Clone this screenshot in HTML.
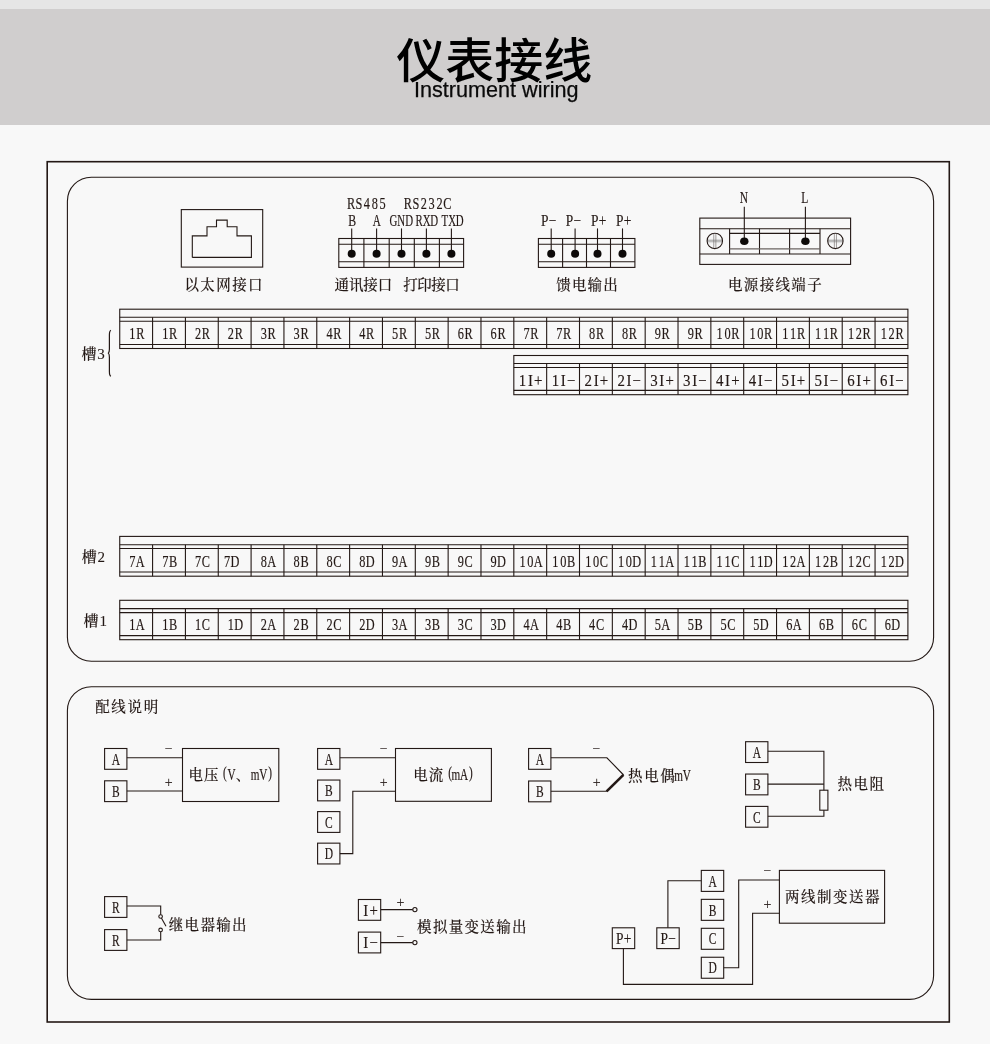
<!DOCTYPE html>
<html lang="zh-CN">
<head>
<meta charset="utf-8">
<title>仪表接线 Instrument wiring</title>
<style>
html,body{margin:0;padding:0;}
body{width:990px;height:1044px;background:#f8f8f8;position:relative;overflow:hidden;font-family:"Liberation Sans","Noto Sans CJK SC",sans-serif;}
.top{position:absolute;left:0;top:0;width:990px;height:9px;background:#e6e6e6;}
.band{position:absolute;left:0;top:9px;width:990px;height:116px;background:#d0cece;}
svg{position:absolute;left:0;top:0;will-change:transform;}
.h{font-family:"Liberation Sans","Noto Sans CJK SC",sans-serif;font-weight:500;fill:#000;}
.s{font-family:"Liberation Sans","Noto Sans CJK SC",sans-serif;font-weight:400;fill:#0a0a0a;stroke:#0a0a0a;stroke-width:0.25;}
.t{font-family:"Liberation Serif","Noto Serif CJK SC",serif;font-weight:500;fill:#231815;stroke:#231815;stroke-width:0.1;}
.l{stroke-width:0.16;}
</style>
</head>
<body>
<div class="top"></div>
<div class="band"></div>
<svg width="990" height="1044" viewBox="0 0 990 1044">
<defs>
<linearGradient id="scr" x1="0" y1="0" x2="0" y2="1">
<stop offset="0" stop-color="#ffffff"/><stop offset="0.36" stop-color="#f6f6f6"/><stop offset="0.5" stop-color="#a8a8a8"/><stop offset="0.64" stop-color="#f2f2f2"/><stop offset="1" stop-color="#ffffff"/>
</linearGradient>
</defs>
<text class="h" x="494.3" y="78" font-size="48" text-anchor="middle" textLength="196" lengthAdjust="spacingAndGlyphs">仪表接线</text>
<text class="s" x="496.3" y="96.8" font-size="21.3" text-anchor="middle" textLength="164.5" lengthAdjust="spacingAndGlyphs">Instrument wiring</text>
<g class="geo" fill="none" stroke="#231815" stroke-width="1.1">
<rect x="47.2" y="161.7" width="902.1" height="860.3" stroke-width="1.6"/>
<rect x="67.4" y="177.2" width="866.2" height="484" rx="24" stroke-width="1.1"/>
<rect x="67.4" y="686.7" width="866.2" height="312.7" rx="24" stroke-width="1.1"/>
<rect x="181.3" y="209.6" width="81.4" height="57.5"/>
<polyline points="192.3,257.4 192.3,235.9 207,235.9 207,226.7 216.5,226.7 216.5,220.1 227.2,220.1 227.2,226.7 237,226.7 237,235.9 251.4,235.9 251.4,257.4 192.3,257.4"/>
<rect x="338.8" y="238.5" width="124.8" height="28.9"/>
<line x1="338.8" y1="244.3" x2="463.6" y2="244.3"/>
<line x1="338.8" y1="261.7" x2="463.6" y2="261.7"/>
<line x1="363.9" y1="238.5" x2="363.9" y2="267.4"/>
<line x1="389.2" y1="238.5" x2="389.2" y2="267.4"/>
<line x1="414.3" y1="238.5" x2="414.3" y2="267.4"/>
<line x1="439.4" y1="238.5" x2="439.4" y2="267.4"/>
<line x1="351.7" y1="228.4" x2="351.7" y2="253.4"/>
<ellipse cx="351.7" cy="253.8" rx="4.0" ry="4.0" fill="#0d0a09" stroke="none"/>
<line x1="376.6" y1="228.4" x2="376.6" y2="253.4"/>
<ellipse cx="376.6" cy="253.8" rx="4.0" ry="4.0" fill="#0d0a09" stroke="none"/>
<line x1="401.5" y1="228.4" x2="401.5" y2="253.4"/>
<ellipse cx="401.5" cy="253.8" rx="4.0" ry="4.0" fill="#0d0a09" stroke="none"/>
<line x1="426.4" y1="228.4" x2="426.4" y2="253.4"/>
<ellipse cx="426.4" cy="253.8" rx="4.0" ry="4.0" fill="#0d0a09" stroke="none"/>
<line x1="451.4" y1="228.4" x2="451.4" y2="253.4"/>
<ellipse cx="451.4" cy="253.8" rx="4.0" ry="4.0" fill="#0d0a09" stroke="none"/>
<rect x="538.4" y="238.5" width="96.5" height="28.9"/>
<line x1="538.4" y1="244.3" x2="634.9" y2="244.3"/>
<line x1="538.4" y1="261.7" x2="634.9" y2="261.7"/>
<line x1="562.6" y1="238.5" x2="562.6" y2="267.4"/>
<line x1="586.5" y1="238.5" x2="586.5" y2="267.4"/>
<line x1="610.5" y1="238.5" x2="610.5" y2="267.4"/>
<line x1="551.2" y1="228.4" x2="551.2" y2="253.4"/>
<ellipse cx="551.2" cy="253.8" rx="4.0" ry="4.0" fill="#0d0a09" stroke="none"/>
<line x1="575.1" y1="228.4" x2="575.1" y2="253.4"/>
<ellipse cx="575.1" cy="253.8" rx="4.0" ry="4.0" fill="#0d0a09" stroke="none"/>
<line x1="597.5" y1="228.4" x2="597.5" y2="253.4"/>
<ellipse cx="597.5" cy="253.8" rx="4.0" ry="4.0" fill="#0d0a09" stroke="none"/>
<line x1="622.5" y1="228.4" x2="622.5" y2="253.4"/>
<ellipse cx="622.5" cy="253.8" rx="4.0" ry="4.0" fill="#0d0a09" stroke="none"/>
<rect x="699.8" y="218.1" width="150.8" height="46.3"/>
<line x1="699.8" y1="228.7" x2="850.6" y2="228.7"/>
<line x1="699.8" y1="254" x2="850.6" y2="254"/>
<line x1="729.6" y1="228.7" x2="729.6" y2="254"/>
<line x1="759.5" y1="228.7" x2="759.5" y2="254"/>
<line x1="789.6" y1="228.7" x2="789.6" y2="254"/>
<line x1="820" y1="228.7" x2="820" y2="254"/>
<line x1="729.6" y1="233.4" x2="820" y2="233.4"/>
<line x1="729.6" y1="248.8" x2="820" y2="248.8" stroke-width="1.2" stroke="#6b6462"/>
<circle cx="714.8" cy="240.9" r="7.7" fill="url(#scr)"/>
<line x1="713.75" y1="233.5" x2="713.75" y2="248.3" stroke="#7a7472" stroke-width="0.7"/>
<line x1="715.8499999999999" y1="233.5" x2="715.8499999999999" y2="248.3" stroke="#7a7472" stroke-width="0.7"/>
<circle cx="835.4" cy="240.9" r="7.7" fill="url(#scr)"/>
<line x1="834.35" y1="233.5" x2="834.35" y2="248.3" stroke="#7a7472" stroke-width="0.7"/>
<line x1="836.4499999999999" y1="233.5" x2="836.4499999999999" y2="248.3" stroke="#7a7472" stroke-width="0.7"/>
<line x1="744.3" y1="206.8" x2="744.3" y2="241.2"/>
<ellipse cx="744.3" cy="241.2" rx="4.2" ry="3.8" fill="#0d0a09" stroke="none"/>
<line x1="805.4" y1="206.8" x2="805.4" y2="241.2"/>
<ellipse cx="805.4" cy="241.2" rx="4.2" ry="3.8" fill="#0d0a09" stroke="none"/>
<rect x="119.74" y="309.2" width="788.16" height="39.3"/>
<line x1="119.74" y1="317.3" x2="907.9" y2="317.3"/>
<line x1="119.74" y1="321.2" x2="907.9" y2="321.2"/>
<line x1="119.74" y1="344.5" x2="907.9" y2="344.5"/>
<line x1="152.58" y1="317.3" x2="152.58" y2="348.5"/>
<line x1="185.42" y1="317.3" x2="185.42" y2="348.5"/>
<line x1="218.26" y1="317.3" x2="218.26" y2="348.5"/>
<line x1="251.1" y1="317.3" x2="251.1" y2="348.5"/>
<line x1="283.94" y1="317.3" x2="283.94" y2="348.5"/>
<line x1="316.78" y1="317.3" x2="316.78" y2="348.5"/>
<line x1="349.62" y1="317.3" x2="349.62" y2="348.5"/>
<line x1="382.46" y1="317.3" x2="382.46" y2="348.5"/>
<line x1="415.3" y1="317.3" x2="415.3" y2="348.5"/>
<line x1="448.14" y1="317.3" x2="448.14" y2="348.5"/>
<line x1="480.98" y1="317.3" x2="480.98" y2="348.5"/>
<line x1="513.82" y1="317.3" x2="513.82" y2="348.5"/>
<line x1="546.66" y1="317.3" x2="546.66" y2="348.5"/>
<line x1="579.5" y1="317.3" x2="579.5" y2="348.5"/>
<line x1="612.34" y1="317.3" x2="612.34" y2="348.5"/>
<line x1="645.18" y1="317.3" x2="645.18" y2="348.5"/>
<line x1="678.02" y1="317.3" x2="678.02" y2="348.5"/>
<line x1="710.86" y1="317.3" x2="710.86" y2="348.5"/>
<line x1="743.7" y1="317.3" x2="743.7" y2="348.5"/>
<line x1="776.54" y1="317.3" x2="776.54" y2="348.5"/>
<line x1="809.38" y1="317.3" x2="809.38" y2="348.5"/>
<line x1="842.22" y1="317.3" x2="842.22" y2="348.5"/>
<line x1="875.06" y1="317.3" x2="875.06" y2="348.5"/>
<rect x="513.82" y="355.5" width="394.08" height="39.2"/>
<line x1="513.82" y1="363.5" x2="907.9" y2="363.5"/>
<line x1="513.82" y1="367.5" x2="907.9" y2="367.5"/>
<line x1="513.82" y1="390.4" x2="907.9" y2="390.4"/>
<line x1="546.66" y1="363.5" x2="546.66" y2="394.7"/>
<line x1="579.5" y1="363.5" x2="579.5" y2="394.7"/>
<line x1="612.34" y1="363.5" x2="612.34" y2="394.7"/>
<line x1="645.18" y1="363.5" x2="645.18" y2="394.7"/>
<line x1="678.02" y1="363.5" x2="678.02" y2="394.7"/>
<line x1="710.86" y1="363.5" x2="710.86" y2="394.7"/>
<line x1="743.7" y1="363.5" x2="743.7" y2="394.7"/>
<line x1="776.54" y1="363.5" x2="776.54" y2="394.7"/>
<line x1="809.38" y1="363.5" x2="809.38" y2="394.7"/>
<line x1="842.22" y1="363.5" x2="842.22" y2="394.7"/>
<line x1="875.06" y1="363.5" x2="875.06" y2="394.7"/>
<rect x="119.74" y="536.4" width="788.16" height="39.8"/>
<line x1="119.74" y1="544.7" x2="907.9" y2="544.7"/>
<line x1="119.74" y1="548.5" x2="907.9" y2="548.5"/>
<line x1="119.74" y1="572" x2="907.9" y2="572"/>
<line x1="152.58" y1="544.7" x2="152.58" y2="576.2"/>
<line x1="185.42" y1="544.7" x2="185.42" y2="576.2"/>
<line x1="218.26" y1="544.7" x2="218.26" y2="576.2"/>
<line x1="251.1" y1="544.7" x2="251.1" y2="576.2"/>
<line x1="283.94" y1="544.7" x2="283.94" y2="576.2"/>
<line x1="316.78" y1="544.7" x2="316.78" y2="576.2"/>
<line x1="349.62" y1="544.7" x2="349.62" y2="576.2"/>
<line x1="382.46" y1="544.7" x2="382.46" y2="576.2"/>
<line x1="415.3" y1="544.7" x2="415.3" y2="576.2"/>
<line x1="448.14" y1="544.7" x2="448.14" y2="576.2"/>
<line x1="480.98" y1="544.7" x2="480.98" y2="576.2"/>
<line x1="513.82" y1="544.7" x2="513.82" y2="576.2"/>
<line x1="546.66" y1="544.7" x2="546.66" y2="576.2"/>
<line x1="579.5" y1="544.7" x2="579.5" y2="576.2"/>
<line x1="612.34" y1="544.7" x2="612.34" y2="576.2"/>
<line x1="645.18" y1="544.7" x2="645.18" y2="576.2"/>
<line x1="678.02" y1="544.7" x2="678.02" y2="576.2"/>
<line x1="710.86" y1="544.7" x2="710.86" y2="576.2"/>
<line x1="743.7" y1="544.7" x2="743.7" y2="576.2"/>
<line x1="776.54" y1="544.7" x2="776.54" y2="576.2"/>
<line x1="809.38" y1="544.7" x2="809.38" y2="576.2"/>
<line x1="842.22" y1="544.7" x2="842.22" y2="576.2"/>
<line x1="875.06" y1="544.7" x2="875.06" y2="576.2"/>
<rect x="119.74" y="600.3" width="788.16" height="39.4"/>
<line x1="119.74" y1="608.6" x2="907.9" y2="608.6"/>
<line x1="119.74" y1="612.6" x2="907.9" y2="612.6"/>
<line x1="119.74" y1="635.6" x2="907.9" y2="635.6"/>
<line x1="152.58" y1="608.6" x2="152.58" y2="639.7"/>
<line x1="185.42" y1="608.6" x2="185.42" y2="639.7"/>
<line x1="218.26" y1="608.6" x2="218.26" y2="639.7"/>
<line x1="251.1" y1="608.6" x2="251.1" y2="639.7"/>
<line x1="283.94" y1="608.6" x2="283.94" y2="639.7"/>
<line x1="316.78" y1="608.6" x2="316.78" y2="639.7"/>
<line x1="349.62" y1="608.6" x2="349.62" y2="639.7"/>
<line x1="382.46" y1="608.6" x2="382.46" y2="639.7"/>
<line x1="415.3" y1="608.6" x2="415.3" y2="639.7"/>
<line x1="448.14" y1="608.6" x2="448.14" y2="639.7"/>
<line x1="480.98" y1="608.6" x2="480.98" y2="639.7"/>
<line x1="513.82" y1="608.6" x2="513.82" y2="639.7"/>
<line x1="546.66" y1="608.6" x2="546.66" y2="639.7"/>
<line x1="579.5" y1="608.6" x2="579.5" y2="639.7"/>
<line x1="612.34" y1="608.6" x2="612.34" y2="639.7"/>
<line x1="645.18" y1="608.6" x2="645.18" y2="639.7"/>
<line x1="678.02" y1="608.6" x2="678.02" y2="639.7"/>
<line x1="710.86" y1="608.6" x2="710.86" y2="639.7"/>
<line x1="743.7" y1="608.6" x2="743.7" y2="639.7"/>
<line x1="776.54" y1="608.6" x2="776.54" y2="639.7"/>
<line x1="809.38" y1="608.6" x2="809.38" y2="639.7"/>
<line x1="842.22" y1="608.6" x2="842.22" y2="639.7"/>
<line x1="875.06" y1="608.6" x2="875.06" y2="639.7"/>
<path d="M110.9,330.2 C109.6,330.8 109.4,332.6 109.4,335 L109.4,349 C109.4,351 109.1,352.5 108.4,353.1 C109.1,353.7 109.4,355.2 109.4,357.2 L109.4,371.5 C109.4,374 109.6,375.7 110.9,376.3" stroke-width="1.2"/>
<rect x="104.6" y="748.5" width="22.3" height="20.8"/>
<rect x="104.6" y="780.8" width="22.3" height="20.8"/>
<line x1="126.9" y1="757.7" x2="182.5" y2="757.7"/>
<line x1="126.9" y1="791" x2="182.5" y2="791"/>
<rect x="182.5" y="748.5" width="96.3" height="53"/>
<rect x="317.6" y="748.5" width="22.3" height="20.8"/>
<rect x="317.6" y="780.05" width="22.3" height="20.8"/>
<rect x="317.6" y="811.6" width="22.3" height="20.8"/>
<rect x="317.6" y="843.15" width="22.3" height="20.8"/>
<line x1="339.9" y1="757.8" x2="395.5" y2="757.8"/>
<polyline points="395.5,791.2 352.8,791.2 352.8,853.6 339.9,853.6"/>
<rect x="395.5" y="748.5" width="95.9" height="52.8"/>
<rect x="528.6" y="748.5" width="22.3" height="20.8"/>
<rect x="528.6" y="781" width="22.3" height="20.8"/>
<polyline points="550.9,757.8 606.9,757.8 623.6,775"/>
<line x1="550.9" y1="791.2" x2="606.9" y2="791.2"/>
<line x1="606.6" y1="791.4" x2="623.4" y2="774.8" stroke-width="2.6"/>
<rect x="745.6" y="741.7" width="22.3" height="20.8"/>
<rect x="745.6" y="774.05" width="22.3" height="20.8"/>
<rect x="745.6" y="806.4" width="22.3" height="20.8"/>
<polyline points="767.9,751.2 823.9,751.2 823.9,790.2"/>
<line x1="767.9" y1="784.1" x2="823.9" y2="784.1"/>
<rect x="819.8" y="790.2" width="8.1" height="20"/>
<polyline points="767.9,816.3 823.9,816.3 823.9,810.2"/>
<rect x="104.6" y="896.6" width="22.3" height="20.8"/>
<rect x="104.6" y="929.6" width="22.3" height="20.8"/>
<polyline points="126.9,906 160.7,906 160.7,914.7"/>
<circle cx="160.6" cy="916.5" r="1.8" fill="none"/>
<line x1="161.4" y1="918.1" x2="166" y2="926.2"/>
<circle cx="160.6" cy="929.9" r="1.8" fill="none"/>
<polyline points="160.7,931.7 160.7,940 126.9,940"/>
<rect x="358.4" y="899.5" width="22.3" height="20.8"/>
<rect x="358.4" y="932.1" width="22.3" height="20.8"/>
<line x1="380.7" y1="909.6" x2="412.7" y2="909.6"/>
<circle cx="414.9" cy="909.6" r="2.1" fill="none"/>
<line x1="380.7" y1="942.6" x2="412.7" y2="942.6"/>
<circle cx="414.9" cy="942.6" r="2.1" fill="none"/>
<rect x="612.3" y="927.8" width="22.4" height="20.8"/>
<rect x="656.8" y="927.8" width="22.4" height="20.8"/>
<rect x="701.3" y="870.4" width="22.4" height="21"/>
<rect x="701.3" y="899.35" width="22.4" height="21"/>
<rect x="701.3" y="928.3" width="22.4" height="21"/>
<rect x="701.3" y="957.25" width="22.4" height="21"/>
<polyline points="667.9,927.8 667.9,880.8 701.3,880.8"/>
<polyline points="723.7,967.7 738.7,967.7 738.7,880 779.4,880"/>
<polyline points="623.4,948.6 623.4,984.4 752.6,984.4 752.6,913.2 779.4,913.2"/>
<rect x="779.4" y="870.4" width="105.2" height="52.8"/>
</g>
<g class="t">
<text x="184.49 200.37 216.25 232.13 248.01" y="290.12" font-size="14.5">以太网接口</text>
<text class="l" transform="scale(0.77,1)" x="455.91 466.17 476.43 486.69 496.95" y="209.5" font-size="16" text-anchor="middle">RS485</text>
<text class="l" transform="scale(0.77,1)" x="529.81 540.06 550.32 560.58 570.84 581.1" y="209.5" font-size="16" text-anchor="middle">RS232C</text>
<text class="l" transform="scale(0.74,1)" x="475.81" y="225.6" font-size="16" text-anchor="middle">B</text>
<text class="l" transform="scale(0.7,1)" x="538.43" y="225.6" font-size="16" text-anchor="middle">A</text>
<text class="l" transform="scale(0.68,1)" x="578.46 590.15 601.84" y="225.6" font-size="16" text-anchor="middle">GND</text>
<text class="l" transform="scale(0.68,1)" x="616.32 627.5 638.68" y="225.6" font-size="16" text-anchor="middle">RXD</text>
<text class="l" transform="scale(0.68,1)" x="654.12 665 675.88" y="225.6" font-size="16" text-anchor="middle">TXD</text>
<text x="334.49 348.9 363.3 377.71" y="290.12" font-size="14.5">通讯接口</text>
<text x="403.29 417.26 431.24 445.21" y="290.12" font-size="14.5">打印接口</text>
<text class="l" transform="scale(0.84,1)" x="648.51 657.8" y="225.6" font-size="16" text-anchor="middle">P−</text>
<text class="l" transform="scale(0.84,1)" x="678.1 687.38" y="225.6" font-size="16" text-anchor="middle">P−</text>
<text class="l" transform="scale(0.84,1)" x="708.04 717.32" y="225.6" font-size="16" text-anchor="middle">P+</text>
<text class="l" transform="scale(0.84,1)" x="737.92 747.2" y="225.6" font-size="16" text-anchor="middle">P+</text>
<text x="556.19 571.9 587.6 603.31" y="290.12" font-size="14.5">馈电输出</text>
<text class="l" transform="scale(0.72,1)" x="1033.06" y="202.6" font-size="16" text-anchor="middle">N</text>
<text class="l" transform="scale(0.72,1)" x="1117.64" y="202.6" font-size="16" text-anchor="middle">L</text>
<text x="727.99 743.84 759.68 775.52 791.36 807.21" y="290.12" font-size="14.5">电源接线端子</text>
<text class="l" transform="scale(0.77,1)" x="171.99 182.19" y="338.9" font-size="16" text-anchor="middle">1R</text>
<text class="l" transform="scale(0.77,1)" x="214.64 224.84" y="338.9" font-size="16" text-anchor="middle">1R</text>
<text class="l" transform="scale(0.77,1)" x="257.29 267.49" y="338.9" font-size="16" text-anchor="middle">2R</text>
<text class="l" transform="scale(0.77,1)" x="299.94 310.14" y="338.9" font-size="16" text-anchor="middle">2R</text>
<text class="l" transform="scale(0.77,1)" x="342.59 352.79" y="338.9" font-size="16" text-anchor="middle">3R</text>
<text class="l" transform="scale(0.77,1)" x="385.24 395.44" y="338.9" font-size="16" text-anchor="middle">3R</text>
<text class="l" transform="scale(0.77,1)" x="427.89 438.08" y="338.9" font-size="16" text-anchor="middle">4R</text>
<text class="l" transform="scale(0.77,1)" x="470.54 480.73" y="338.9" font-size="16" text-anchor="middle">4R</text>
<text class="l" transform="scale(0.77,1)" x="513.19 523.38" y="338.9" font-size="16" text-anchor="middle">5R</text>
<text class="l" transform="scale(0.77,1)" x="555.84 566.03" y="338.9" font-size="16" text-anchor="middle">5R</text>
<text class="l" transform="scale(0.77,1)" x="598.49 608.68" y="338.9" font-size="16" text-anchor="middle">6R</text>
<text class="l" transform="scale(0.77,1)" x="641.14 651.33" y="338.9" font-size="16" text-anchor="middle">6R</text>
<text class="l" transform="scale(0.77,1)" x="683.79 693.98" y="338.9" font-size="16" text-anchor="middle">7R</text>
<text class="l" transform="scale(0.77,1)" x="726.44 736.63" y="338.9" font-size="16" text-anchor="middle">7R</text>
<text class="l" transform="scale(0.77,1)" x="769.08 779.28" y="338.9" font-size="16" text-anchor="middle">8R</text>
<text class="l" transform="scale(0.77,1)" x="811.73 821.93" y="338.9" font-size="16" text-anchor="middle">8R</text>
<text class="l" transform="scale(0.77,1)" x="854.38 864.58" y="338.9" font-size="16" text-anchor="middle">9R</text>
<text class="l" transform="scale(0.77,1)" x="897.03 907.23" y="338.9" font-size="16" text-anchor="middle">9R</text>
<text class="l" transform="scale(0.77,1)" x="934.58 944.78 954.97" y="338.9" font-size="16" text-anchor="middle">10R</text>
<text class="l" transform="scale(0.77,1)" x="977.23 987.43 997.62" y="338.9" font-size="16" text-anchor="middle">10R</text>
<text class="l" transform="scale(0.77,1)" x="1019.88 1030.08 1040.27" y="338.9" font-size="16" text-anchor="middle">11R</text>
<text class="l" transform="scale(0.77,1)" x="1062.53 1072.73 1082.92" y="338.9" font-size="16" text-anchor="middle">11R</text>
<text class="l" transform="scale(0.77,1)" x="1105.18 1115.38 1125.57" y="338.9" font-size="16" text-anchor="middle">12R</text>
<text class="l" transform="scale(0.77,1)" x="1147.83 1158.03 1168.22" y="338.9" font-size="16" text-anchor="middle">12R</text>
<text class="l" transform="scale(0.93,1)" x="561.92 570.37 578.81" y="385.8" font-size="16" text-anchor="middle">1I+</text>
<text class="l" transform="scale(0.93,1)" x="597.24 605.68 614.12" y="385.8" font-size="16" text-anchor="middle">1I−</text>
<text class="l" transform="scale(0.93,1)" x="632.55 640.99 649.43" y="385.8" font-size="16" text-anchor="middle">2I+</text>
<text class="l" transform="scale(0.93,1)" x="667.86 676.3 684.74" y="385.8" font-size="16" text-anchor="middle">2I−</text>
<text class="l" transform="scale(0.93,1)" x="703.17 711.61 720.05" y="385.8" font-size="16" text-anchor="middle">3I+</text>
<text class="l" transform="scale(0.93,1)" x="738.48 746.92 755.37" y="385.8" font-size="16" text-anchor="middle">3I−</text>
<text class="l" transform="scale(0.93,1)" x="773.8 782.24 790.68" y="385.8" font-size="16" text-anchor="middle">4I+</text>
<text class="l" transform="scale(0.93,1)" x="809.11 817.55 825.99" y="385.8" font-size="16" text-anchor="middle">4I−</text>
<text class="l" transform="scale(0.93,1)" x="844.42 852.86 861.3" y="385.8" font-size="16" text-anchor="middle">5I+</text>
<text class="l" transform="scale(0.93,1)" x="879.73 888.17 896.61" y="385.8" font-size="16" text-anchor="middle">5I−</text>
<text class="l" transform="scale(0.93,1)" x="915.04 923.48 931.92" y="385.8" font-size="16" text-anchor="middle">6I+</text>
<text class="l" transform="scale(0.93,1)" x="950.35 958.8 967.24" y="385.8" font-size="16" text-anchor="middle">6I−</text>
<text class="l" transform="scale(0.77,1)" x="171.99 182.19" y="566.7" font-size="16" text-anchor="middle">7A</text>
<text class="l" transform="scale(0.77,1)" x="214.64 224.84" y="566.7" font-size="16" text-anchor="middle">7B</text>
<text class="l" transform="scale(0.77,1)" x="257.29 267.49" y="566.7" font-size="16" text-anchor="middle">7C</text>
<text class="l" transform="scale(0.77,1)" x="295.01 305.2" y="566.7" font-size="16" text-anchor="middle">7D</text>
<text class="l" transform="scale(0.77,1)" x="342.59 352.79" y="566.7" font-size="16" text-anchor="middle">8A</text>
<text class="l" transform="scale(0.77,1)" x="385.24 395.44" y="566.7" font-size="16" text-anchor="middle">8B</text>
<text class="l" transform="scale(0.77,1)" x="427.89 438.08" y="566.7" font-size="16" text-anchor="middle">8C</text>
<text class="l" transform="scale(0.77,1)" x="470.54 480.73" y="566.7" font-size="16" text-anchor="middle">8D</text>
<text class="l" transform="scale(0.77,1)" x="513.19 523.38" y="566.7" font-size="16" text-anchor="middle">9A</text>
<text class="l" transform="scale(0.77,1)" x="555.84 566.03" y="566.7" font-size="16" text-anchor="middle">9B</text>
<text class="l" transform="scale(0.77,1)" x="598.49 608.68" y="566.7" font-size="16" text-anchor="middle">9C</text>
<text class="l" transform="scale(0.77,1)" x="641.14 651.33" y="566.7" font-size="16" text-anchor="middle">9D</text>
<text class="l" transform="scale(0.77,1)" x="678.69 688.88 699.08" y="566.7" font-size="16" text-anchor="middle">10A</text>
<text class="l" transform="scale(0.77,1)" x="721.34 731.53 741.73" y="566.7" font-size="16" text-anchor="middle">10B</text>
<text class="l" transform="scale(0.77,1)" x="763.99 774.18 784.38" y="566.7" font-size="16" text-anchor="middle">10C</text>
<text class="l" transform="scale(0.77,1)" x="806.64 816.83 827.03" y="566.7" font-size="16" text-anchor="middle">10D</text>
<text class="l" transform="scale(0.77,1)" x="849.29 859.48 869.68" y="566.7" font-size="16" text-anchor="middle">11A</text>
<text class="l" transform="scale(0.77,1)" x="891.94 902.13 912.32" y="566.7" font-size="16" text-anchor="middle">11B</text>
<text class="l" transform="scale(0.77,1)" x="934.58 944.78 954.97" y="566.7" font-size="16" text-anchor="middle">11C</text>
<text class="l" transform="scale(0.77,1)" x="977.23 987.43 997.62" y="566.7" font-size="16" text-anchor="middle">11D</text>
<text class="l" transform="scale(0.77,1)" x="1019.88 1030.08 1040.27" y="566.7" font-size="16" text-anchor="middle">12A</text>
<text class="l" transform="scale(0.77,1)" x="1062.53 1072.73 1082.92" y="566.7" font-size="16" text-anchor="middle">12B</text>
<text class="l" transform="scale(0.77,1)" x="1105.18 1115.38 1125.57" y="566.7" font-size="16" text-anchor="middle">12C</text>
<text class="l" transform="scale(0.77,1)" x="1147.83 1158.03 1168.22" y="566.7" font-size="16" text-anchor="middle">12D</text>
<text class="l" transform="scale(0.77,1)" x="171.99 182.19" y="629.9" font-size="16" text-anchor="middle">1A</text>
<text class="l" transform="scale(0.77,1)" x="214.64 224.84" y="629.9" font-size="16" text-anchor="middle">1B</text>
<text class="l" transform="scale(0.77,1)" x="257.29 267.49" y="629.9" font-size="16" text-anchor="middle">1C</text>
<text class="l" transform="scale(0.77,1)" x="299.94 310.14" y="629.9" font-size="16" text-anchor="middle">1D</text>
<text class="l" transform="scale(0.77,1)" x="342.59 352.79" y="629.9" font-size="16" text-anchor="middle">2A</text>
<text class="l" transform="scale(0.77,1)" x="385.24 395.44" y="629.9" font-size="16" text-anchor="middle">2B</text>
<text class="l" transform="scale(0.77,1)" x="427.89 438.08" y="629.9" font-size="16" text-anchor="middle">2C</text>
<text class="l" transform="scale(0.77,1)" x="470.54 480.73" y="629.9" font-size="16" text-anchor="middle">2D</text>
<text class="l" transform="scale(0.77,1)" x="513.19 523.38" y="629.9" font-size="16" text-anchor="middle">3A</text>
<text class="l" transform="scale(0.77,1)" x="555.84 566.03" y="629.9" font-size="16" text-anchor="middle">3B</text>
<text class="l" transform="scale(0.77,1)" x="598.49 608.68" y="629.9" font-size="16" text-anchor="middle">3C</text>
<text class="l" transform="scale(0.77,1)" x="641.14 651.33" y="629.9" font-size="16" text-anchor="middle">3D</text>
<text class="l" transform="scale(0.77,1)" x="683.79 693.98" y="629.9" font-size="16" text-anchor="middle">4A</text>
<text class="l" transform="scale(0.77,1)" x="726.44 736.63" y="629.9" font-size="16" text-anchor="middle">4B</text>
<text class="l" transform="scale(0.77,1)" x="769.08 779.28" y="629.9" font-size="16" text-anchor="middle">4C</text>
<text class="l" transform="scale(0.77,1)" x="811.73 821.93" y="629.9" font-size="16" text-anchor="middle">4D</text>
<text class="l" transform="scale(0.77,1)" x="854.38 864.58" y="629.9" font-size="16" text-anchor="middle">5A</text>
<text class="l" transform="scale(0.77,1)" x="897.03 907.23" y="629.9" font-size="16" text-anchor="middle">5B</text>
<text class="l" transform="scale(0.77,1)" x="939.68 949.88" y="629.9" font-size="16" text-anchor="middle">5C</text>
<text class="l" transform="scale(0.77,1)" x="982.33 992.53" y="629.9" font-size="16" text-anchor="middle">5D</text>
<text class="l" transform="scale(0.77,1)" x="1024.98 1035.18" y="629.9" font-size="16" text-anchor="middle">6A</text>
<text class="l" transform="scale(0.77,1)" x="1067.63 1077.82" y="629.9" font-size="16" text-anchor="middle">6B</text>
<text class="l" transform="scale(0.77,1)" x="1110.28 1120.47" y="629.9" font-size="16" text-anchor="middle">6C</text>
<text class="l" transform="scale(0.77,1)" x="1152.93 1163.12" y="629.9" font-size="16" text-anchor="middle">6D</text>
<text x="81.5 97.3" y="359.4 359.2" font-size="15">槽3</text>
<text x="81.7 97.5" y="562.4 562.2" font-size="15">槽2</text>
<text x="83.6 99.4" y="626.1 625.9" font-size="15">槽1</text>
<text x="95.19 111.36 127.54 143.71" y="711.52" font-size="14.5">配线说明</text>
<text class="l" transform="scale(0.72,1)" x="161.04" y="764.7" font-size="16" text-anchor="middle">A</text>
<text class="l" transform="scale(0.72,1)" x="161.04" y="797" font-size="16" text-anchor="middle">B</text>
<text x="168.6" y="753.29" font-size="14" text-anchor="middle">−</text>
<text x="168.7" y="787.09" font-size="14" text-anchor="middle">+</text>
<text x="188.49 203.99" y="779.92" font-size="14.5">电压</text>
<text class="l" transform="scale(0.7,1)" x="321.14 330.79" y="778.1 779.8" font-size="16" text-anchor="middle">(V</text>
<text x="235.79" y="779.92" font-size="14.5">、</text>
<text class="l" transform="scale(0.7,1)" x="364.36 376.07 385.93" y="779.8 779.8 778.1" font-size="16" text-anchor="middle">mV)</text>
<text class="l" transform="scale(0.72,1)" x="456.88" y="764.7" font-size="16" text-anchor="middle">A</text>
<text class="l" transform="scale(0.72,1)" x="456.88" y="796.25" font-size="16" text-anchor="middle">B</text>
<text class="l" transform="scale(0.72,1)" x="456.88" y="827.8" font-size="16" text-anchor="middle">C</text>
<text class="l" transform="scale(0.72,1)" x="456.88" y="859.35" font-size="16" text-anchor="middle">D</text>
<text x="383.6" y="753.19" font-size="14" text-anchor="middle">−</text>
<text x="383.7" y="787.09" font-size="14" text-anchor="middle">+</text>
<text x="413.29 428.79" y="779.92" font-size="14.5">电流</text>
<text class="l" transform="scale(0.7,1)" x="642.86 651.29 662.86 672.71" y="778.1 779.8 779.8 778.1" font-size="16" text-anchor="middle">(mA)</text>
<text class="l" transform="scale(0.72,1)" x="749.93" y="764.7" font-size="16" text-anchor="middle">A</text>
<text class="l" transform="scale(0.72,1)" x="749.93" y="797.2" font-size="16" text-anchor="middle">B</text>
<text x="596.5" y="753.19" font-size="14" text-anchor="middle">−</text>
<text x="596.6" y="787.09" font-size="14" text-anchor="middle">+</text>
<text x="628.09 644.19 660.29" y="781.32" font-size="14.5">热电偶</text>
<text class="l" transform="scale(0.7,1)" x="969.29 981.29" y="780.8" font-size="16" text-anchor="middle">mV</text>
<text class="l" transform="scale(0.72,1)" x="1051.32" y="757.9" font-size="16" text-anchor="middle">A</text>
<text class="l" transform="scale(0.72,1)" x="1051.32" y="790.25" font-size="16" text-anchor="middle">B</text>
<text class="l" transform="scale(0.72,1)" x="1051.32" y="822.6" font-size="16" text-anchor="middle">C</text>
<text x="837.49 853.5 869.51" y="788.92" font-size="14.5">热电阻</text>
<text class="l" transform="scale(0.72,1)" x="161.04" y="912.8" font-size="16" text-anchor="middle">R</text>
<text class="l" transform="scale(0.72,1)" x="161.04" y="945.8" font-size="16" text-anchor="middle">R</text>
<text x="168.79 184.62 200.45 216.28 232.11" y="929.92" font-size="14.5">继电器输出</text>
<text class="l" transform="scale(0.93,1)" x="393.39 401.77" y="915.7" font-size="16" text-anchor="middle">I+</text>
<text class="l" transform="scale(0.93,1)" x="393.39 401.77" y="948.3" font-size="16" text-anchor="middle">I−</text>
<text x="400.5" y="906.99" font-size="14" text-anchor="middle">+</text>
<text x="400.5" y="941.09" font-size="14" text-anchor="middle">−</text>
<text x="417.09 432.91 448.73 464.55 480.37 496.19 512.01" y="932.32" font-size="14.5">模拟量变送输出</text>
<text class="l" transform="scale(0.84,1)" x="737.86 747.14" y="944" font-size="16" text-anchor="middle">P+</text>
<text class="l" transform="scale(0.84,1)" x="790.83 800.12" y="944" font-size="16" text-anchor="middle">P−</text>
<text class="l" transform="scale(0.72,1)" x="989.86" y="886.6" font-size="16" text-anchor="middle">A</text>
<text class="l" transform="scale(0.72,1)" x="989.86" y="915.55" font-size="16" text-anchor="middle">B</text>
<text class="l" transform="scale(0.72,1)" x="989.86" y="944.5" font-size="16" text-anchor="middle">C</text>
<text class="l" transform="scale(0.72,1)" x="989.86" y="973.45" font-size="16" text-anchor="middle">D</text>
<text x="767.5" y="875.09" font-size="14" text-anchor="middle">−</text>
<text x="767.5" y="908.99" font-size="14" text-anchor="middle">+</text>
<text x="785.09 801.08 817.06 833.04 849.02 865.01" y="901.82" font-size="14.5">两线制变送器</text>
</g>
</svg>
</body>
</html>
